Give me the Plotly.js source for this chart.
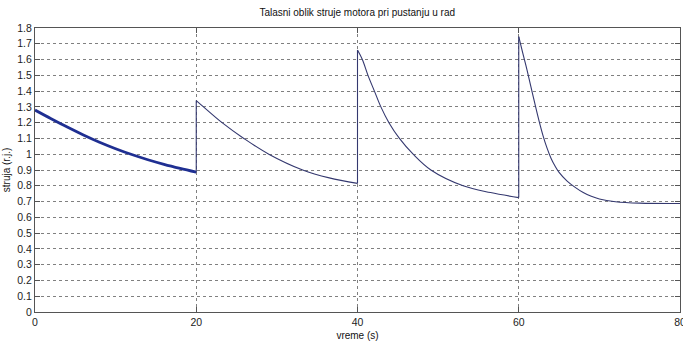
<!DOCTYPE html>
<html>
<head>
<meta charset="utf-8">
<script src="https://cdn.plot.ly/plotly-3.0.1.min.js"></script>
<style>html,body{margin:0;padding:0;background:#fff;overflow:hidden;}#chart{width:683px;height:342px;}</style>
</head>
<body>
<div id="chart"></div>
<script>
// Segment 1 (0-20 s)
const t1 = [0, 2, 4, 6, 8, 10, 12, 14, 16, 18, 20];
const i1 = [1.28, 1.225, 1.172, 1.122, 1.076, 1.035, 0.998, 0.965, 0.936, 0.91, 0.886];
// Segment 2 (20-40 s)
const t2 = [20, 20.9, 23.2, 25.9, 29, 33.2, 36.5, 40];
const i2 = [1.34, 1.3, 1.2, 1.1, 1.0, 0.9, 0.85, 0.815];
// Segment 3 (40-60 s)
const t3 = [40, 40.6, 41.3, 42.1, 42.9, 43.9, 45.2, 46.9, 49.1, 53.1, 56.5, 60];
const i3 = [1.66, 1.6, 1.5, 1.4, 1.3, 1.2, 1.1, 1.0, 0.9, 0.8, 0.757, 0.725];
// Segment 4 (60-80 s)
const t4 = [60, 60.5, 61, 61.5, 62, 62.5, 63, 63.5, 64, 64.5, 65, 66, 67, 68, 69, 70, 72, 75, 80];
const i4 = [1.745, 1.64, 1.54, 1.43, 1.32, 1.215, 1.12, 1.04, 0.975, 0.925, 0.885, 0.83, 0.79, 0.757, 0.733, 0.716, 0.699, 0.69, 0.688];

const xTicks = [0, 20, 40, 60, 80];
const yTicks = [0, 0.1, 0.2, 0.3, 0.4, 0.5, 0.6, 0.7, 0.8, 0.9, 1, 1.1, 1.2, 1.3, 1.4, 1.5, 1.6, 1.7, 1.8];
const yTickText = ['0', '0.1', '0.2', '0.3', '0.4', '0.5', '0.6', '0.7', '0.8', '0.9', '1', '1.1', '1.2', '1.3', '1.4', '1.5', '1.6', '1.7', '1.8'];

const font = 'Liberation Sans Narrow, Arial Narrow, Liberation Sans, sans-serif';
const thin = {color: '#34386f', width: 1.1};

function curve(t, v, line) {
  return {x: t, y: v, type: 'scatter', mode: 'lines', line: Object.assign({shape: 'spline', smoothing: 1}, line), hoverinfo: 'skip'};
}
function jump(ta, va, tb, vb) {
  return {x: [ta[ta.length - 1], tb[0]], y: [va[va.length - 1], vb[0]], type: 'scatter', mode: 'lines', line: thin, hoverinfo: 'skip'};
}

const traces = [
  curve(t1, i1, {color: '#1f2f92', width: 2.8}),
  jump(t1, i1, t2, i2),
  curve(t2, i2, thin),
  jump(t2, i2, t3, i3),
  curve(t3, i3, thin),
  jump(t3, i3, t4, i4),
  curve(t4, i4, thin)
];

const axisCommon = {
  showline: true, linecolor: '#555', linewidth: 1, mirror: 'ticks',
  ticks: 'inside', ticklen: 5, tickcolor: '#555',
  showgrid: true, gridcolor: '#808080', griddash: 'dot', gridwidth: 1,
  zeroline: false, ticklabeloverflow: 'allow',
  tickfont: {family: font, size: 10.5, color: '#222'}
};

const layout = {
  width: 683, height: 342,
  margin: {l: 35, r: 3, t: 28, b: 30},
  paper_bgcolor: '#fff', plot_bgcolor: '#fff',
  showlegend: false,
  title: {text: 'Talasni oblik struje motora pri pustanju u rad', font: {family: font, size: 10, color: '#111'},
          x: 0.523, xanchor: 'center', y: 0.962, yanchor: 'middle'},
  xaxis: Object.assign({}, axisCommon, {
    range: [0, 80], tickvals: xTicks, ticktext: xTicks.map(String),
    title: {text: 'vreme (s)', font: {family: font, size: 10, color: '#111'}, standoff: 5}
  }),
  yaxis: Object.assign({}, axisCommon, {
    range: [0, 1.8], tickvals: yTicks, ticktext: yTickText,
    title: {text: 'struja (r.j.)', font: {family: font, size: 10, color: '#111'}, standoff: 4}
  })
};

Plotly.newPlot('chart', traces, layout, {displayModeBar: false, staticPlot: true});
</script>
</body>
</html>
